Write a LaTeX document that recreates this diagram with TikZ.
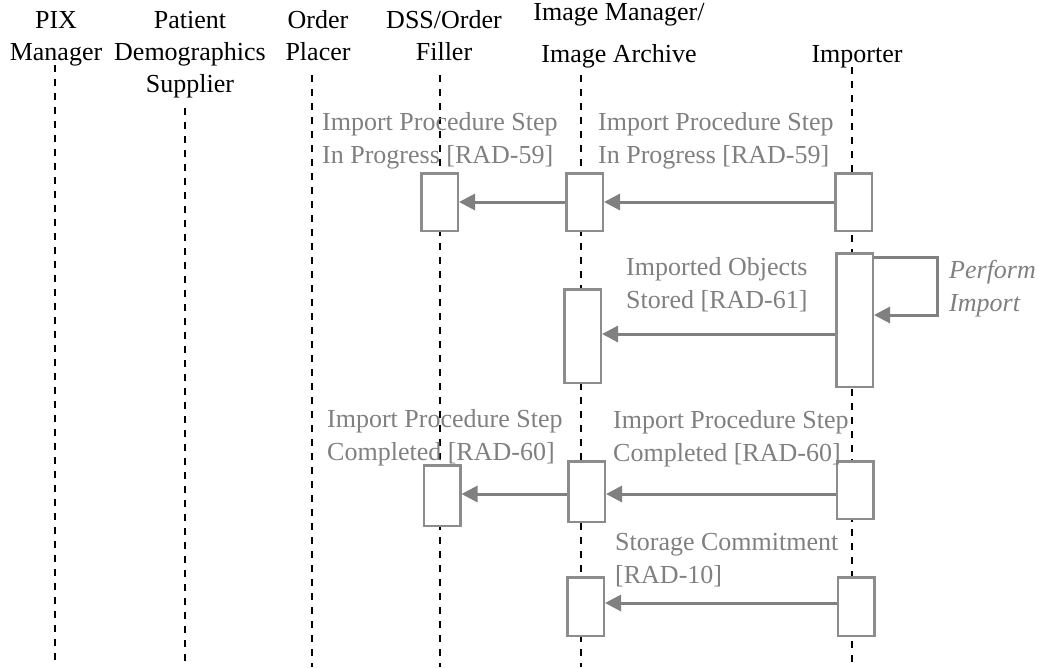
\documentclass[tikz,border=0pt]{standalone}
\usepackage{fontspec}
\setmainfont{Liberation Serif}
\usetikzlibrary{arrows.meta}
\definecolor{msggray}{HTML}{808080}
\definecolor{boxgray}{HTML}{8C8C8C}
\begin{document}
\begin{tikzpicture}[x=1pt,y=-1pt,
  hdr/.style={font=\fontsize{26}{32}\selectfont, align=center, anchor=base, inner sep=0pt},
  lbl/.style={font=\fontsize{26}{33}\selectfont, text=msggray, align=left, anchor=base west, inner sep=0pt},
  life/.style={line width=2pt, dash pattern=on 7pt off 7pt},
  act/.style={draw=boxgray, fill=white, line width=2.5pt, minimum width=36.5pt, inner sep=0pt},
  msg/.style={draw=msggray, line width=3pt, -{Triangle[length=16pt,width=16pt]}}]
\useasboundingbox (0,0) rectangle (1039,667);
% headers (anchor = baseline of the last line)
\node[hdr] (hpix) at (56,60) {PIX\\Manager};
\node[hdr] (hpds) at (190,92) {Patient\\Demographics\\Supplier};
\node[hdr] (hop) at (318,60) {Order\\Placer};
\node[hdr] (hdss) at (444,60) {DSS/Order\\Filler};
\node[hdr] (him) at (619,62) {Image Manager/\\[10pt]Image Archive};
\node[hdr] (himp) at (857,62) {Importer};
% lifelines
\foreach \n/\x/\t in {pix/55/65, pds/185/108, op/312/75, dss/440/75, im/581/75, imp/852/67}{
  \coordinate (\n top) at (\x,\t);
  \coordinate (\n bot) at (\x,667);
  \draw[life] (\n top) -- (\n bot);
}
% activation boxes
\node[act, minimum height=57.5pt] (b1dss) at (439.5,202) {};
\node[act, minimum height=57.5pt] (b1im) at (584.5,202) {};
\node[act, minimum height=57.5pt] (b1imp) at (853.5,202) {};
\node[act, minimum height=133.5pt] (b2imp) at (854.5,320) {};
\node[act, minimum height=93.5pt] (b2im) at (582.5,336) {};
\node[act, minimum height=60.5pt] (b3dss) at (442,495.5) {};
\node[act, minimum height=60.5pt] (b3im) at (586.5,491.5) {};
\node[act, minimum height=57.5pt] (b3imp) at (855,490) {};
\node[act, minimum height=58.5pt] (b4im) at (585.5,606.5) {};
\node[act, minimum height=58.5pt] (b4imp) at (856,606.5) {};
% message levels
\coordinate (r2) at (0,334);
\coordinate (r3) at (0,494);
\coordinate (r4) at (0,603);
% messages
\draw[msg] (b1imp.west) -- (b1im.east);
\draw[msg] (b1im.west) -- (b1dss.east);
\draw[msg] (b2imp.west |- r2) -- (b2im.east |- r2);
\coordinate (loopA) at ([yshift=-5pt]b2imp.north east);
\coordinate (loopB) at ([yshift=-63pt]b2imp.north east);
\draw[msg] (loopA) -- ++(63,0) |- (loopB);
\draw[msg] (b3imp.west |- r3) -- (b3im.east |- r3);
\draw[msg] (b3im.west |- r3) -- (b3dss.east |- r3);
\draw[msg] (b4imp.west |- r4) -- (b4im.east |- r4);
% labels (anchor = baseline of the last line)
\node[lbl] (l1a) at (322,163) {Import Procedure Step\\In Progress [RAD-59]};
\node[lbl] (l1b) at (598,163) {Import Procedure Step\\In Progress [RAD-59]};
\node[lbl] (l2) at (626,308) {Imported Objects\\Stored [RAD-61]};
\node[lbl, font=\fontsize{26}{33}\selectfont\itshape] (l2p) at (949,311) {Perform\\Import};
\node[lbl] (l3a) at (327,460) {Import Procedure Step\\Completed [RAD-60]};
\node[lbl] (l3b) at (613,461) {Import Procedure Step\\Completed [RAD-60]};
\node[lbl] (l4) at (615,583) {Storage Commitment\\{[RAD-10]}};
\end{tikzpicture}
\end{document}
